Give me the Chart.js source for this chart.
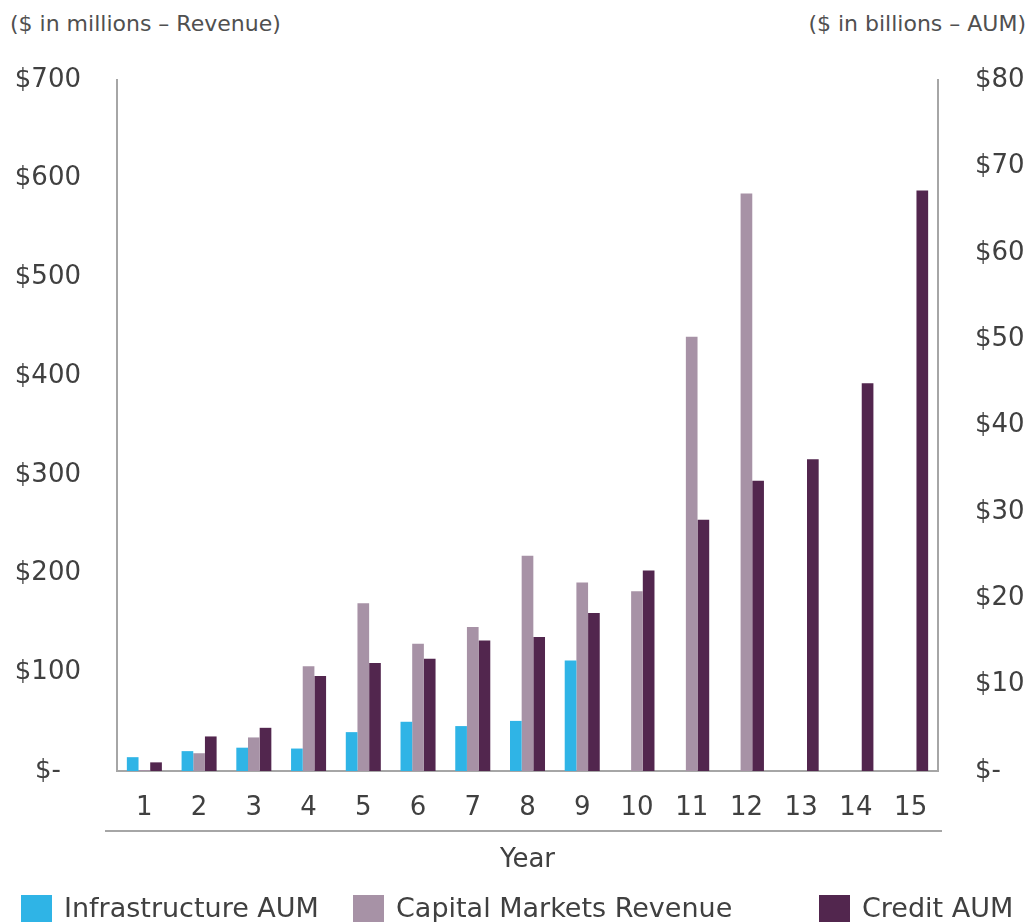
<!DOCTYPE html>
<html>

<head>
    <meta charset="UTF-8">
    <title>Revenue and AUM</title>
    <style>
        html, body { margin: 0; padding: 0; background: #fff; }
        body { width: 1029px; height: 922px; position: relative; overflow: hidden;
               font-family: "DejaVu Sans", sans-serif; color: #404040; }
        #chart { position: absolute; left: 0; top: 0; }
        .unit { position: absolute; top: 11px; font-size: 22px; line-height: normal; color: #505050; white-space: nowrap; }
        .legend-item { position: absolute; top: 895px; height: 27px; white-space: nowrap; }
        .legend-item .box { position: absolute; left: 0; top: 0; width: 31px; height: 27px; }
        .legend-item .txt { position: absolute; left: 43px; top: -3px; font-size: 27px; line-height: normal; color: #404040; }
    </style>
</head>

<body>
    <div class="unit" style="left:10px;">($ in millions – Revenue)</div>
    <div class="unit" style="right:3px;">($ in billions – AUM)</div>
    <canvas id="chart" width="1029" height="922"></canvas>
    <div id="legend"></div>
    <script src="https://cdn.jsdelivr.net/npm/chart.js"></script>
    <script>
        const years = ["1", "2", "3", "4", "5", "6", "7", "8", "9", "10", "11", "12", "13", "14", "15"];
        const infraAum = [1.6, 2.3, 2.7, 2.6, 4.5, 5.7, 5.2, 5.8, 12.8, null, null, null, null, null, null]; // $bn
        const capMktsRevenue = [1, 18, 34, 106, 170, 129, 146, 218, 191, 182, 440, 585, null, null, null]; // $m
        const creditAum = [1.0, 4.0, 5.0, 11.0, 12.5, 13.0, 15.1, 15.5, 18.3, 23.2, 29.1, 33.6, 36.1, 44.9, 67.2]; // $bn

        const seriesNames = ["Infrastructure AUM", "Capital Markets Revenue", "Credit AUM"];
        const seriesColors = ["#2fb4e6", "#a792a6", "#52264e"];
        const legendX = [21, 353, 819];

        const tickFont = { family: "DejaVu Sans", size: 26 };
        const axisColor = "#a6a6a6";
        const textColor = "#404040";

        const dollar = (v) => (v === 0 ? "$-" : "$" + v);

        // line under the category labels
        const underline = {
            id: "underline",
            afterDraw(chart) {
                const { ctx, chartArea } = chart;
                ctx.save();
                ctx.strokeStyle = axisColor;
                ctx.lineWidth = 2;
                ctx.beginPath();
                ctx.moveTo(chartArea.left - 12, chartArea.bottom + 60);
                ctx.lineTo(chartArea.right + 4, chartArea.bottom + 60);
                ctx.stroke();
                ctx.restore();
            }
        };

        new Chart(document.getElementById("chart").getContext("2d"), {
            type: "bar",
            data: {
                labels: years,
                datasets: [
                    { label: seriesNames[0], data: infraAum, backgroundColor: seriesColors[0], yAxisID: "y1" },
                    { label: seriesNames[1], data: capMktsRevenue, backgroundColor: seriesColors[1], yAxisID: "y" },
                    { label: seriesNames[2], data: creditAum, backgroundColor: seriesColors[2], yAxisID: "y1" },
                ],
            },
            plugins: [underline],
            options: {
                responsive: false,
                animation: false,
                layout: { padding: { top: 80, left: 0, right: 0, bottom: 0 } },
                datasets: { bar: { categoryPercentage: 0.64, barPercentage: 1.0 } },
                plugins: { legend: { display: false }, tooltip: { enabled: false } },
                scales: {
                    x: {
                        grid: { display: false },
                        border: { display: true, color: axisColor, width: 2 },
                        ticks: { font: tickFont, color: textColor, padding: 14, maxRotation: 0 },
                        title: { display: true, text: "Year", font: tickFont, color: textColor, padding: { top: 0, bottom: 46 } },
                        afterFit: (scale) => { scale.height = 151; },
                    },
                    y: {
                        position: "left",
                        min: 0, max: 700,
                        grid: { display: false },
                        border: { display: true, color: axisColor, width: 2 },
                        ticks: { stepSize: 100, font: tickFont, color: textColor, padding: 28, crossAlign: "center", callback: dollar },
                        afterFit: (scale) => { scale.width = 117; },
                    },
                    y1: {
                        position: "right",
                        min: 0, max: 80,
                        grid: { display: false },
                        border: { display: true, color: axisColor, width: 2 },
                        ticks: { stepSize: 10, font: tickFont, color: textColor, padding: 29, callback: dollar },
                        afterFit: (scale) => { scale.width = 91; },
                    },
                },
            },
        });

        const legend = document.getElementById("legend");
        seriesNames.forEach((name, i) => {
            const item = document.createElement("div");
            item.className = "legend-item";
            item.style.left = legendX[i] + "px";
            item.innerHTML = '<span class="box" style="background:' + seriesColors[i] + '"></span><span class="txt">' + name + '</span>';
            legend.appendChild(item);
        });
    </script>
</body>

</html>
